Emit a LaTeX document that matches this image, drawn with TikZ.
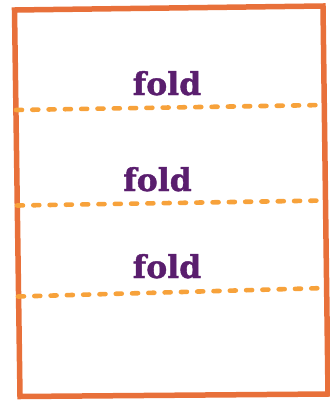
\documentclass[tikz,border=0pt]{standalone}
\usepackage{fontspec}
\newfontfamily\foldfont[BoldFeatures={FakeBold=1.2}]{DejaVu Serif}
\definecolor{border}{HTML}{E8703A}
\definecolor{dash}{HTML}{F7A23B}
\definecolor{txt}{HTML}{5A1E6E}
\tikzset{
  pg/.style={draw=border,line width=5.5pt,line join=miter},
  foldline/.style={draw=dash,line width=4.6pt,line cap=round,dash pattern=on 6pt off 10.3pt},
  foldlabel/.style={text=txt,font=\foldfont\bfseries\fontsize{31.5}{31.5}\selectfont,inner sep=0pt,anchor=base}
}
\begin{document}
\begin{tikzpicture}[x=1pt,y=-1pt]
\useasboundingbox (0,0) rectangle (330,400);
\coordinate (tl) at (14.5,10);
\coordinate (tr) at (323,6);
\coordinate (br) at (328,394);
\coordinate (bl) at (20,396.5);
\draw[pg] (tl) -- (tr) -- (br) -- (bl) -- cycle;
\coordinate (a1) at (16,110);
\coordinate (b1) at (324,105);
\coordinate (a2) at (17,205.5);
\coordinate (b2) at (325,200.5);
\coordinate (a3) at (18,296.5);
\coordinate (b3) at (326,288);
\draw[foldline] (a1) -- (b1);
\draw[foldline] (a2) -- (b2);
\draw[foldline] (a3) -- (b3);
\node[foldlabel] (f1) at (167,95) {fold};
\node[foldlabel] (f2) at (157.5,191) {fold};
\node[foldlabel] (f3) at (167,278) {fold};
\end{tikzpicture}
\end{document}
